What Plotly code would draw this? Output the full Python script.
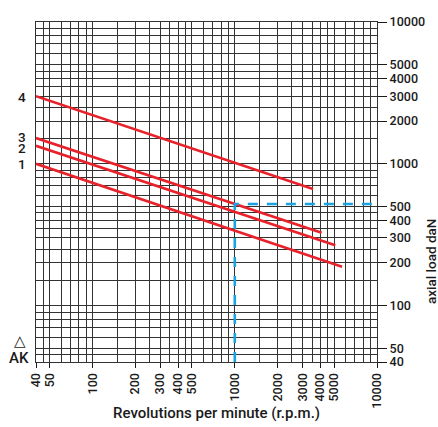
import math
import plotly.graph_objects as go

# ---- data ----
rpm_ticks = [40, 50, 100, 200, 300, 400, 500, 1000, 2000, 3000, 4000, 5000, 10000]
rpm_grid = [45, 60, 70, 80, 90, 150, 250, 350, 450, 600, 700, 800, 900,
            1500, 2500, 3500, 4500, 6000, 7000, 8000, 9000]
load_ticks = [40, 50, 100, 200, 300, 400, 500, 1000, 2000, 3000, 4000, 5000, 10000]
load_grid = [45, 60, 70, 80, 90, 150, 250, 350, 450, 600, 700, 800, 900,
             1500, 2500, 3500, 4500, 6000, 7000, 8000, 9000]

curve_names = ["1", "2", "3", "4"]
curve_rpm_start = [40, 40, 40, 40]
curve_rpm_end = [5680, 5090, 4080, 3550]
curve_load_start = [1000, 1340, 1520, 3000]
curve_load_end = [188, 266, 326, 665]

example_rpm = [1000, 1000, 10000]
example_load = [40, 520, 520]

# ---- styles ----
FONT = "Roboto"
WEIGHT = 500
GRID = "#333333"
RED = "#e8222b"
BLUE = "#1aa3e0"
INK = "#1a1a1a"

fig = go.Figure()

for name, x0, x1, y0, y1 in zip(curve_names, curve_rpm_start, curve_rpm_end,
                                curve_load_start, curve_load_end):
    fig.add_trace(go.Scatter(x=[x0, x1], y=[y0, y1], mode="lines", name=name,
                             line=dict(color=RED, width=2.6), showlegend=False,
                             hoverinfo="skip"))

fig.add_trace(go.Scatter(x=example_rpm, y=example_load, mode="lines",
                         line=dict(color=BLUE, width=2.6, dash="10px,9px"),
                         showlegend=False, hoverinfo="skip"))

axis_common = dict(
    type="log",
    showgrid=True, gridcolor=GRID, gridwidth=1.2,
    showline=True, mirror=True, linecolor=GRID, linewidth=1.2,
    zeroline=False,
    ticks="outside", tickcolor=INK, tickwidth=1.2,
    tickfont=dict(family=FONT, size=12.5, color=INK, weight=WEIGHT),
    fixedrange=True,
)

fig.update_xaxes(
    **axis_common,
    range=[math.log10(40), math.log10(10000)],
    tickmode="array", tickvals=rpm_ticks, ticktext=[str(v) for v in rpm_ticks],
    tickangle=-90, ticklen=5,
    minor=dict(tickmode="array", tickvals=rpm_grid, showgrid=True,
               gridcolor=GRID, gridwidth=1.2, ticks=""),
)
fig.update_yaxes(
    **axis_common,
    side="right",
    range=[math.log10(40), math.log10(10000)],
    tickmode="array", tickvals=load_ticks, ticktext=[str(v) for v in load_ticks],
    ticklen=9,
    minor=dict(tickmode="array", tickvals=load_grid, showgrid=True,
               gridcolor=GRID, gridwidth=1.2, ticks=""),
)

L, R, T, B = 36, 61, 22, 65
W, H = 438, 427
pw, ph = W - L - R, H - T - B

def px(x):
    return (x - L) / pw

def py(y):
    return (H - B - y) / ph

annotations = [
    dict(text="Revolutions per minute (r.p.m.)", x=px(216), y=py(413),
         font=dict(family=FONT, size=15, color=INK, weight=WEIGHT)),
    dict(text="axial load daN", x=px(431), y=py(262), textangle=-90,
         font=dict(family=FONT, size=13.5, color=INK, weight=WEIGHT)),
    dict(text="AK", x=px(19), y=py(358),
         font=dict(family=FONT, size=15, color=INK, weight=WEIGHT)),
    dict(text="△", x=px(20), y=py(341),
         font=dict(family="DejaVu Sans", size=15, color=INK)),
]
label_y = {"4": 96.5, "3": 136.5, "2": 148, "1": 164}
for name in curve_names:
    annotations.append(dict(text=name, x=px(22), y=py(label_y[name]),
                            font=dict(family=FONT, size=13.5, color=INK, weight=WEIGHT)))
for a in annotations:
    a.update(xref="paper", yref="paper", showarrow=False,
             xanchor="center", yanchor="middle")

fig.update_layout(
    width=W, height=H,
    margin=dict(l=L, r=R, t=T, b=B, autoexpand=False),
    paper_bgcolor="white", plot_bgcolor="white",
    annotations=annotations,
    showlegend=False,
)

fig.write_html(
    "out.html",
    config={"displayModeBar": False},
    post_script="document.body.style.margin='0';document.body.style.overflow='hidden';",
)
